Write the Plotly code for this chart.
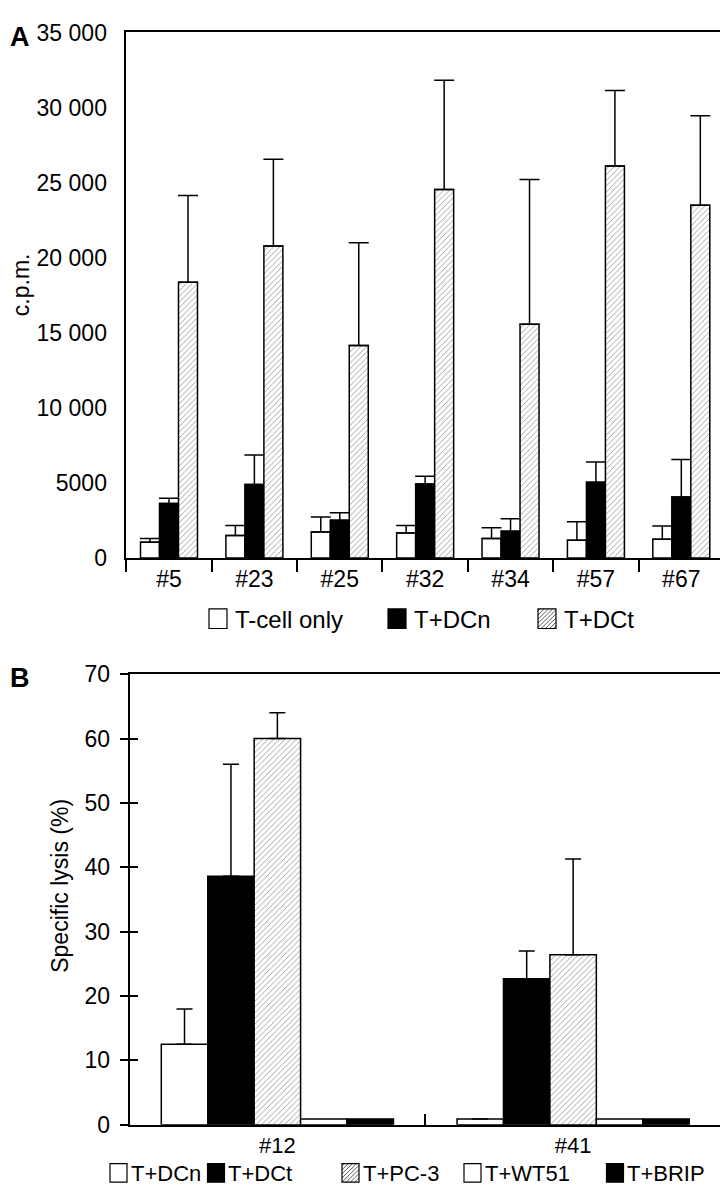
import plotly.graph_objects as go

# ---------------- data ----------------
clones_a = ["#5", "#23", "#25", "#32", "#34", "#57", "#67"]
series_a = ["T-cell only", "T+DCn", "T+DCt"]
tcell_only = [1060, 1500, 1740, 1670, 1300, 1190, 1260]
tcell_only_err = [240, 670, 1000, 500, 720, 1220, 870]
t_dcn = [3630, 4890, 2520, 4930, 1780, 5040, 4060]
t_dcn_err = [360, 1970, 500, 520, 830, 1360, 2500]
t_dct = [18370, 20780, 14150, 24540, 15570, 26100, 23500]
t_dct_err = [5780, 5780, 6850, 7270, 9640, 5040, 5950]
ytick_vals_a = [0, 5000, 10000, 15000, 20000, 25000, 30000, 35000]
ytick_text_a = ["0", "5000", "10 000", "15 000", "20 000", "25 000", "30 000", "35 000"]

clones_b = ["#12", "#41"]
series_b = ["T+DCn", "T+DCt", "T+PC-3", "T+WT51", "T+BRIP"]
b_dcn = [12.5, 0.9]
b_dcn_err = [5.5, 0]
b_dct = [38.6, 22.7]
b_dct_err = [17.4, 4.3]
b_pc3 = [60.0, 26.4]
b_pc3_err = [4.0, 14.9]
b_wt51 = [0.9, 0.9]
b_brip = [0.9, 0.9]

# ---------------- geometry helpers ----------------
W, H = 728, 1195
def px(x):
    return x / W
def py(y):
    return 1 - y / H

FONT = "Liberation Sans, Arial, Helvetica, sans-serif"
FS = 23
LW = 1.5
HATCH = dict(shape="/", size=4, solidity=0.22, fgcolor="#333333", bgcolor="white")

fig = go.Figure()

# ---------------- panel A ----------------
styles_a = [
    dict(color="white"),
    dict(color="black"),
    dict(color="white", pattern=HATCH),
]
vals_a = [tcell_only, t_dcn, t_dct]
errs_a = [tcell_only_err, t_dcn_err, t_dct_err]
wa = 0.2225
for i, (name, v, e, st) in enumerate(zip(series_a, vals_a, errs_a, styles_a)):
    fig.add_trace(go.Bar(
        x=clones_a, y=v, name=name, xaxis="x", yaxis="y",
        width=wa, offset=-1.5 * wa + i * wa,
        marker=dict(line=dict(color="black", width=LW), **st),
        error_y=dict(type="data", array=e, arrayminus=[0] * len(e), symmetric=False,
                     color="black", thickness=LW, width=10),
        showlegend=False,
    ))

# ---------------- panel B ----------------
styles_b = [
    dict(color="white"),
    dict(color="black"),
    dict(color="white", pattern=HATCH),
    dict(color="white"),
    dict(color="black"),
]
vals_b = [b_dcn, b_dct, b_pc3, b_wt51, b_brip]
errs_b = [b_dcn_err, b_dct_err, b_pc3_err, None, None]
wb = 0.157
for i, (name, v, e, st) in enumerate(zip(series_b, vals_b, errs_b, styles_b)):
    kw = {}
    if e is not None:
        kw["error_y"] = dict(type="data", array=e, arrayminus=[0] * len(e), symmetric=False,
                             color="black", thickness=LW, width=8)
    fig.add_trace(go.Bar(
        x=clones_b, y=v, name=name, xaxis="x2", yaxis="y2",
        width=wb, offset=-2.5 * wb + i * wb,
        marker=dict(line=dict(color="black", width=LW), **st),
        showlegend=False, **kw,
    ))
# helper trace for the inner tick axis of panel B
fig.add_trace(go.Scatter(x=[clones_b[0]], y=[None], xaxis="x2", yaxis="y3",
                         mode="markers", showlegend=False, hoverinfo="skip"))

axis_common = dict(showline=True, linecolor="black", linewidth=LW, mirror=True,
                   showgrid=False, zeroline=False, tickcolor="black", tickwidth=LW,
                   tickfont=dict(family=FONT, size=FS, color="black"))

fig.update_layout(
    width=W, height=H, margin=dict(l=0, r=0, t=0, b=0),
    paper_bgcolor="white", plot_bgcolor="white",
    barmode="overlay", showlegend=False,
    font=dict(family=FONT, size=FS, color="black"),
    xaxis=dict(domain=[px(118.3), px(716)], anchor="y", type="category",
               categoryorder="array", categoryarray=clones_a,
               tickson="boundaries", ticks="outside", ticklen=12,
               ticklabelstandoff=0, **axis_common),
    yaxis=dict(domain=[py(549), py(11.7)], anchor="x", range=[0, 35000],
               tickvals=ytick_vals_a, ticktext=ytick_text_a, ticks="",
               ticklabelstandoff=13, **axis_common),
    yaxis2=dict(domain=[py(1128.3), py(667.7)], anchor="x2", range=[0, 70],
                tickvals=list(range(0, 71, 10)), ticks="outside", ticklen=8,
                ticklabelstandoff=5, **axis_common),
    yaxis3=dict(overlaying="y2", anchor="x2", side="left", range=[0, 70],
                tickvals=list(range(0, 71, 10)), ticks="inside", ticklen=8,
                tickcolor="black", tickwidth=LW, showticklabels=False,
                showline=False, showgrid=False, zeroline=False),
)
xb_common = dict(axis_common)
xb_common["tickfont"] = dict(family=FONT, size=22, color="black")
fig.update_layout(
    xaxis2=dict(domain=[px(121.5), px(713)], anchor="y2", type="category",
                categoryorder="array", categoryarray=clones_b,
                tickson="boundaries", ticks="inside", ticklen=11,
                ticklabelstandoff=0, **xb_common),
)

annotations = []
shapes = []

def text(x, y, s, size=FS, bold=False, angle=0, xanchor="left", yanchor="middle"):
    annotations.append(dict(
        x=px(x), y=py(y), xref="paper", yref="paper", text=("<b>%s</b>" % s) if bold else s,
        showarrow=False, xanchor=xanchor, yanchor=yanchor, textangle=angle,
        font=dict(family=FONT, size=size, color="black"), borderpad=0))

# panel letters and axis titles
text(1, 16, "A", size=27, bold=True)
text(1, 672, "B", size=27, bold=True)
text(13, 270, "c.p.m.", angle=-90, xanchor="center")
text(52, 884, "Specific lysis (%)", angle=-90, xanchor="center")

def swatch(x0, y0, w, h, kind):
    x1, y1 = x0 + w, y0 + h
    if kind == "hatch":
        segs = []
        step = 4.2
        c = x0 + y0 + step / 2
        while c < x1 + y1:
            xa = max(x0, c - y1)
            xb = min(x1, c - y0)
            if xb > xa:
                segs.append("M%.5f,%.5f L%.5f,%.5f" % (px(xa), py(c - xa), px(xb), py(c - xb)))
            c += step
        shapes.append(dict(type="path", xref="paper", yref="paper", path=" ".join(segs),
                           line=dict(color="#333333", width=0.8)))
        fill = "rgba(0,0,0,0)"
    else:
        fill = "black" if kind == "black" else "white"
    shapes.append(dict(type="rect", xref="paper", yref="paper",
                       x0=px(x0), x1=px(x1), y0=py(y1), y1=py(y0),
                       fillcolor=fill, line=dict(color="black", width=1.2),
                       layer="above"))

# legend panel A
leg_a_x = [201, 380, 530]
kinds_a = ["white", "black", "hatch"]
for name, x, k in zip(series_a, leg_a_x, kinds_a):
    swatch(x, 601, 18, 20, k)
    text(x + 25, 612, name, size=24)

# legend panel B
leg_b_x = [102, 199.5, 334, 456, 598.5]
kinds_b = ["white", "black", "hatch", "white", "black"]
for name, x, k in zip(series_b, leg_b_x, kinds_b):
    swatch(x, 1168, 17, 19, k)
    text(x + 19.5, 1178, name, size=22)

fig.update_layout(annotations=annotations, shapes=shapes)
fig.write_html("out.html")
